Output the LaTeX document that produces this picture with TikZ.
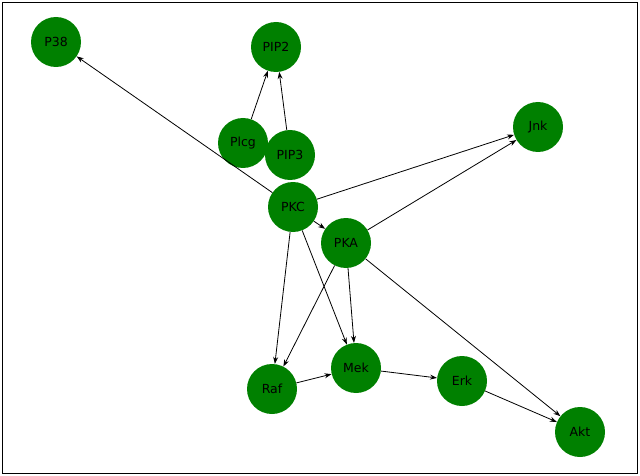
\documentclass[tikz,border=0pt]{standalone}
\usepackage{fontspec}
\setmainfont{DejaVu Sans}
\usetikzlibrary{arrows.meta}
\begin{document}
\begin{tikzpicture}[x=1pt,y=-1pt,
  nd/.style={circle,fill={rgb,255:red,0;green,128;blue,0},minimum size=50pt,inner sep=0pt,font=\fontsize{12.5}{14}\selectfont},
  ed/.style={-{Stealth[length=7pt,width=5pt]},line width=0.8pt}]
\useasboundingbox (0,0) rectangle (640,476);
\draw[line width=0.8pt] (2,2) rectangle (637,473);
\node[nd] (P38) at (56,42) {P38};
\node[nd] (PIP2) at (276,47) {PIP2};
\node[nd] (Plcg) at (243,143) {Plcg};
\node[nd] (PIP3) at (290,155) {PIP3};
\node[nd] (Jnk) at (538,127) {Jnk};
\node[nd] (PKC) at (293,207) {PKC};
\node[nd] (PKA) at (346,243) {PKA};
\node[nd] (Raf) at (272,389) {Raf};
\node[nd] (Mek) at (356,368) {Mek};
\node[nd] (Erk) at (462,381) {Erk};
\node[nd] (Akt) at (580,432) {Akt};
\draw[ed] (PKC) -- (P38);
\draw[ed] (Plcg) -- (PIP2);
\draw[ed] (PIP3) -- (PIP2);
\draw[ed] (PKC) -- (Jnk);
\draw[ed] (PKA) -- (Jnk);
\draw[ed] (PKC) -- (PKA);
\draw[ed] (PKC) -- (Raf);
\draw[ed] (PKC) -- (Mek);
\draw[ed] (PKA) -- (Raf);
\draw[ed] (PKA) -- (Mek);
\draw[ed] (PKA) -- (Akt);
\draw[ed] (Raf) -- (Mek);
\draw[ed] (Mek) -- (Erk);
\draw[ed] (Erk) -- (Akt);
\end{tikzpicture}
\end{document}
